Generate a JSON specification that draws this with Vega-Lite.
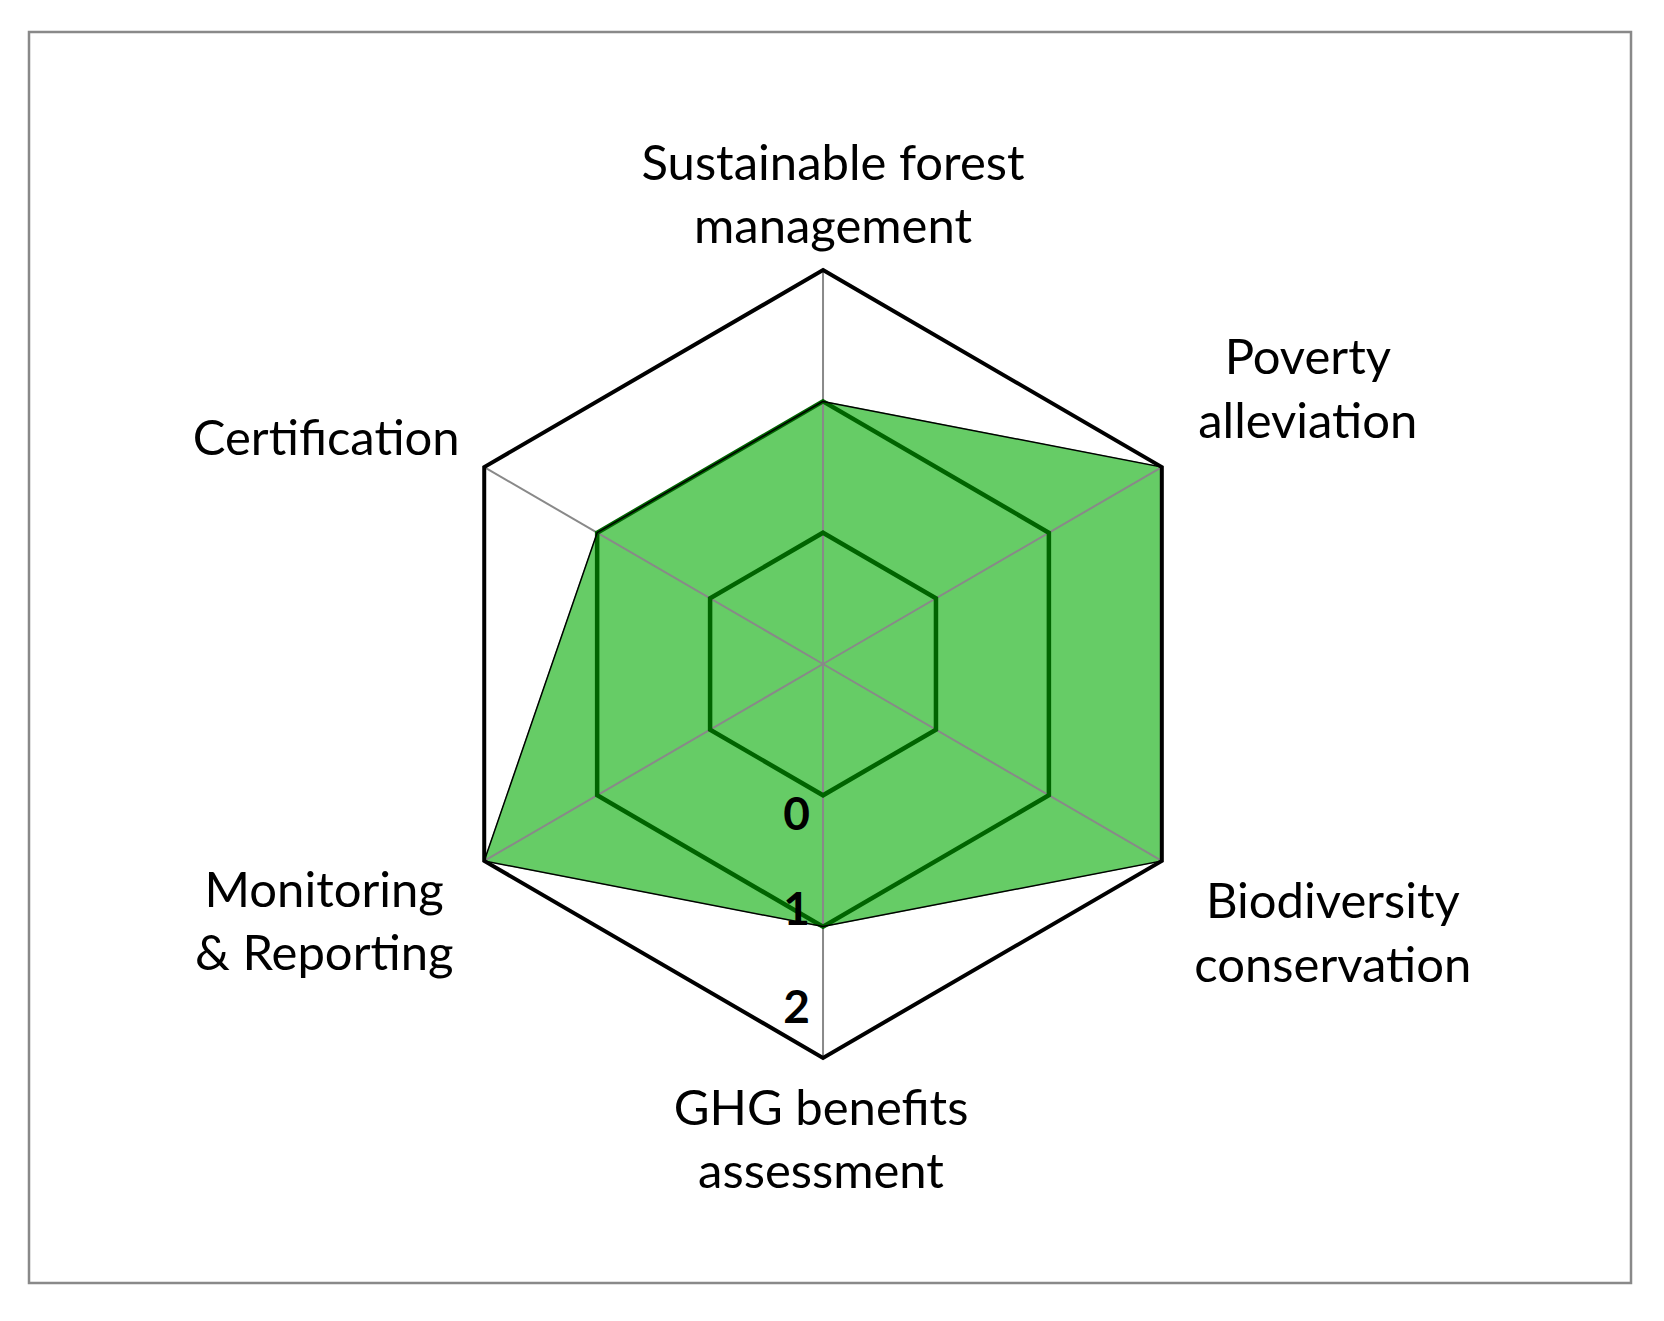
{
  "$schema": "https://vega.github.io/schema/vega-lite/v6.json",
  "width": 1602,
  "height": 1251,
  "autosize": {"type": "none"},
  "padding": {"left": 29, "top": 32, "right": 33, "bottom": 38},
  "background": "white",
  "config": {"view": {"stroke": "#898989", "strokeWidth": 2.5}, "font": "Lato"},
  "datasets": {
    "scores": [
      {"idx": 0, "axis": "Sustainable forest management", "label": "Sustainable forest\nmanagement", "score": 1},
      {"idx": 1, "axis": "Poverty alleviation", "label": "Poverty\nalleviation", "score": 2},
      {"idx": 2, "axis": "Biodiversity conservation", "label": "Biodiversity\nconservation", "score": 2},
      {"idx": 3, "axis": "GHG benefits assessment", "label": "GHG benefits\nassessment", "score": 1},
      {"idx": 4, "axis": "Monitoring & Reporting", "label": "Monitoring\n& Reporting", "score": 2},
      {"idx": 5, "axis": "Certification", "label": "Certification", "score": 1}
    ],
    "grid": [
      {"level": 0, "idx": 0}, {"level": 0, "idx": 1}, {"level": 0, "idx": 2}, {"level": 0, "idx": 3}, {"level": 0, "idx": 4}, {"level": 0, "idx": 5},
      {"level": 1, "idx": 0}, {"level": 1, "idx": 1}, {"level": 1, "idx": 2}, {"level": 1, "idx": 3}, {"level": 1, "idx": 4}, {"level": 1, "idx": 5},
      {"level": 2, "idx": 0}, {"level": 2, "idx": 1}, {"level": 2, "idx": 2}, {"level": 2, "idx": 3}, {"level": 2, "idx": 4}, {"level": 2, "idx": 5}
    ],
    "ticks": [{"tick": 0}, {"tick": 1}, {"tick": 2}]
  },
  "layer": [
    {
      "data": {"name": "scores"},
      "transform": [
        {"calculate": "(datum.score+1)*sin(datum.idx*PI/3)", "as": "px"},
        {"calculate": "(datum.score+1)*cos(datum.idx*PI/3)", "as": "py"}
      ],
      "mark": {"type": "line", "interpolate": "linear-closed", "fill": "#66CC66", "stroke": "#66CC66", "strokeWidth": 1},
      "encoding": {
        "x": {"field": "px", "type": "quantitative", "scale": {"domain": [-6.089, 6.196], "nice": false, "zero": false}, "axis": null},
        "y": {"field": "py", "type": "quantitative", "scale": {"domain": [-4.7144, 4.8134], "nice": false, "zero": false}, "axis": null},
        "order": {"field": "idx", "type": "quantitative"}
      }
    },
    {
      "data": {"name": "scores"},
      "transform": [
        {"calculate": "0", "as": "cx"},
        {"calculate": "0", "as": "cy"},
        {"calculate": "3*sin(datum.idx*PI/3)", "as": "px"},
        {"calculate": "3*cos(datum.idx*PI/3)", "as": "py"}
      ],
      "mark": {"type": "rule", "stroke": "#898989", "strokeWidth": 2},
      "encoding": {
        "x": {"field": "cx", "type": "quantitative"},
        "y": {"field": "cy", "type": "quantitative"},
        "x2": {"field": "px"},
        "y2": {"field": "py"}
      }
    },
    {
      "data": {"name": "grid"},
      "transform": [
        {"filter": "datum.level < 2"},
        {"calculate": "(datum.level+1)*sin(datum.idx*PI/3)", "as": "px"},
        {"calculate": "(datum.level+1)*cos(datum.idx*PI/3)", "as": "py"}
      ],
      "mark": {"type": "line", "interpolate": "linear-closed", "stroke": "#006400", "strokeWidth": 4.5, "strokeJoin": "miter"},
      "encoding": {
        "x": {"field": "px", "type": "quantitative"},
        "y": {"field": "py", "type": "quantitative"},
        "detail": {"field": "level", "type": "nominal"},
        "order": {"field": "idx", "type": "quantitative"}
      }
    },
    {
      "data": {"name": "scores"},
      "transform": [
        {"calculate": "(datum.score+1)*sin(datum.idx*PI/3)", "as": "px"},
        {"calculate": "(datum.score+1)*cos(datum.idx*PI/3)", "as": "py"}
      ],
      "mark": {"type": "line", "interpolate": "linear-closed", "stroke": "#000000", "strokeWidth": 1.5, "strokeJoin": "miter"},
      "encoding": {
        "x": {"field": "px", "type": "quantitative"},
        "y": {"field": "py", "type": "quantitative"},
        "order": {"field": "idx", "type": "quantitative"}
      }
    },
    {
      "data": {"name": "grid"},
      "transform": [
        {"filter": "datum.level == 2"},
        {"calculate": "(datum.level+1)*sin(datum.idx*PI/3)", "as": "px"},
        {"calculate": "(datum.level+1)*cos(datum.idx*PI/3)", "as": "py"}
      ],
      "mark": {"type": "line", "interpolate": "linear-closed", "stroke": "#000000", "strokeWidth": 4, "strokeJoin": "miter"},
      "encoding": {
        "x": {"field": "px", "type": "quantitative"},
        "y": {"field": "py", "type": "quantitative"},
        "detail": {"field": "level", "type": "nominal"},
        "order": {"field": "idx", "type": "quantitative"}
      }
    },
    {
      "data": {"name": "scores"},
      "transform": [
        {"filter": "datum.idx == 0"},
        {"calculate": "3*sin(datum.idx*PI/3)", "as": "px"},
        {"calculate": "3*cos(datum.idx*PI/3)", "as": "py"}
      ],
      "mark": {"type": "text", "align": "center", "baseline": "alphabetic", "lineBreak": "\n", "lineHeight": 63, "fontSize": 49, "color": "#000000", "dx": 10, "dy": -90},
      "encoding": {"x": {"field": "px", "type": "quantitative"}, "y": {"field": "py", "type": "quantitative"}, "text": {"field": "label", "type": "nominal"}}
    },
    {
      "data": {"name": "scores"},
      "transform": [
        {"filter": "datum.idx == 1"},
        {"calculate": "3*sin(datum.idx*PI/3)", "as": "px"},
        {"calculate": "3*cos(datum.idx*PI/3)", "as": "py"}
      ],
      "mark": {"type": "text", "align": "center", "baseline": "alphabetic", "lineBreak": "\n", "lineHeight": 64, "fontSize": 49, "color": "#000000", "dx": 146, "dy": -93},
      "encoding": {"x": {"field": "px", "type": "quantitative"}, "y": {"field": "py", "type": "quantitative"}, "text": {"field": "label", "type": "nominal"}}
    },
    {
      "data": {"name": "scores"},
      "transform": [
        {"filter": "datum.idx == 2"},
        {"calculate": "3*sin(datum.idx*PI/3)", "as": "px"},
        {"calculate": "3*cos(datum.idx*PI/3)", "as": "py"}
      ],
      "mark": {"type": "text", "align": "center", "baseline": "alphabetic", "lineBreak": "\n", "lineHeight": 64, "fontSize": 49, "color": "#000000", "dx": 171, "dy": 57},
      "encoding": {"x": {"field": "px", "type": "quantitative"}, "y": {"field": "py", "type": "quantitative"}, "text": {"field": "label", "type": "nominal"}}
    },
    {
      "data": {"name": "scores"},
      "transform": [
        {"filter": "datum.idx == 3"},
        {"calculate": "3*sin(datum.idx*PI/3)", "as": "px"},
        {"calculate": "3*cos(datum.idx*PI/3)", "as": "py"}
      ],
      "mark": {"type": "text", "align": "center", "baseline": "alphabetic", "lineBreak": "\n", "lineHeight": 63, "fontSize": 49, "color": "#000000", "dx": -2, "dy": 67},
      "encoding": {"x": {"field": "px", "type": "quantitative"}, "y": {"field": "py", "type": "quantitative"}, "text": {"field": "label", "type": "nominal"}}
    },
    {
      "data": {"name": "scores"},
      "transform": [
        {"filter": "datum.idx == 4"},
        {"calculate": "3*sin(datum.idx*PI/3)", "as": "px"},
        {"calculate": "3*cos(datum.idx*PI/3)", "as": "py"}
      ],
      "mark": {"type": "text", "align": "center", "baseline": "alphabetic", "lineBreak": "\n", "lineHeight": 63, "fontSize": 49, "color": "#000000", "dx": -160, "dy": 46},
      "encoding": {"x": {"field": "px", "type": "quantitative"}, "y": {"field": "py", "type": "quantitative"}, "text": {"field": "label", "type": "nominal"}}
    },
    {
      "data": {"name": "scores"},
      "transform": [
        {"filter": "datum.idx == 5"},
        {"calculate": "3*sin(datum.idx*PI/3)", "as": "px"},
        {"calculate": "3*cos(datum.idx*PI/3)", "as": "py"}
      ],
      "mark": {"type": "text", "align": "center", "baseline": "alphabetic", "lineBreak": "\n", "lineHeight": 63, "fontSize": 49, "color": "#000000", "dx": -158, "dy": -12},
      "encoding": {"x": {"field": "px", "type": "quantitative"}, "y": {"field": "py", "type": "quantitative"}, "text": {"field": "label", "type": "nominal"}}
    },
    {
      "data": {"name": "ticks"},
      "transform": [{"filter": "datum.tick == 0"}, {"calculate": "0", "as": "px"}, {"calculate": "-(datum.tick+1)", "as": "py"}],
      "mark": {"type": "text", "align": "right", "baseline": "alphabetic", "fontSize": 46, "fontWeight": "bold", "color": "#000000", "dx": -13, "dy": 35},
      "encoding": {"x": {"field": "px", "type": "quantitative"}, "y": {"field": "py", "type": "quantitative"}, "text": {"field": "tick", "type": "nominal"}}
    },
    {
      "data": {"name": "ticks"},
      "transform": [{"filter": "datum.tick == 1"}, {"calculate": "0", "as": "px"}, {"calculate": "-(datum.tick+1)", "as": "py"}],
      "mark": {"type": "text", "align": "right", "baseline": "alphabetic", "fontSize": 46, "fontWeight": "bold", "color": "#000000", "dx": -13, "dy": -2},
      "encoding": {"x": {"field": "px", "type": "quantitative"}, "y": {"field": "py", "type": "quantitative"}, "text": {"field": "tick", "type": "nominal"}}
    },
    {
      "data": {"name": "ticks"},
      "transform": [{"filter": "datum.tick == 2"}, {"calculate": "0", "as": "px"}, {"calculate": "-(datum.tick+1)", "as": "py"}],
      "mark": {"type": "text", "align": "right", "baseline": "alphabetic", "fontSize": 46, "fontWeight": "bold", "color": "#000000", "dx": -13, "dy": -35},
      "encoding": {"x": {"field": "px", "type": "quantitative"}, "y": {"field": "py", "type": "quantitative"}, "text": {"field": "tick", "type": "nominal"}}
    }
  ]
}
